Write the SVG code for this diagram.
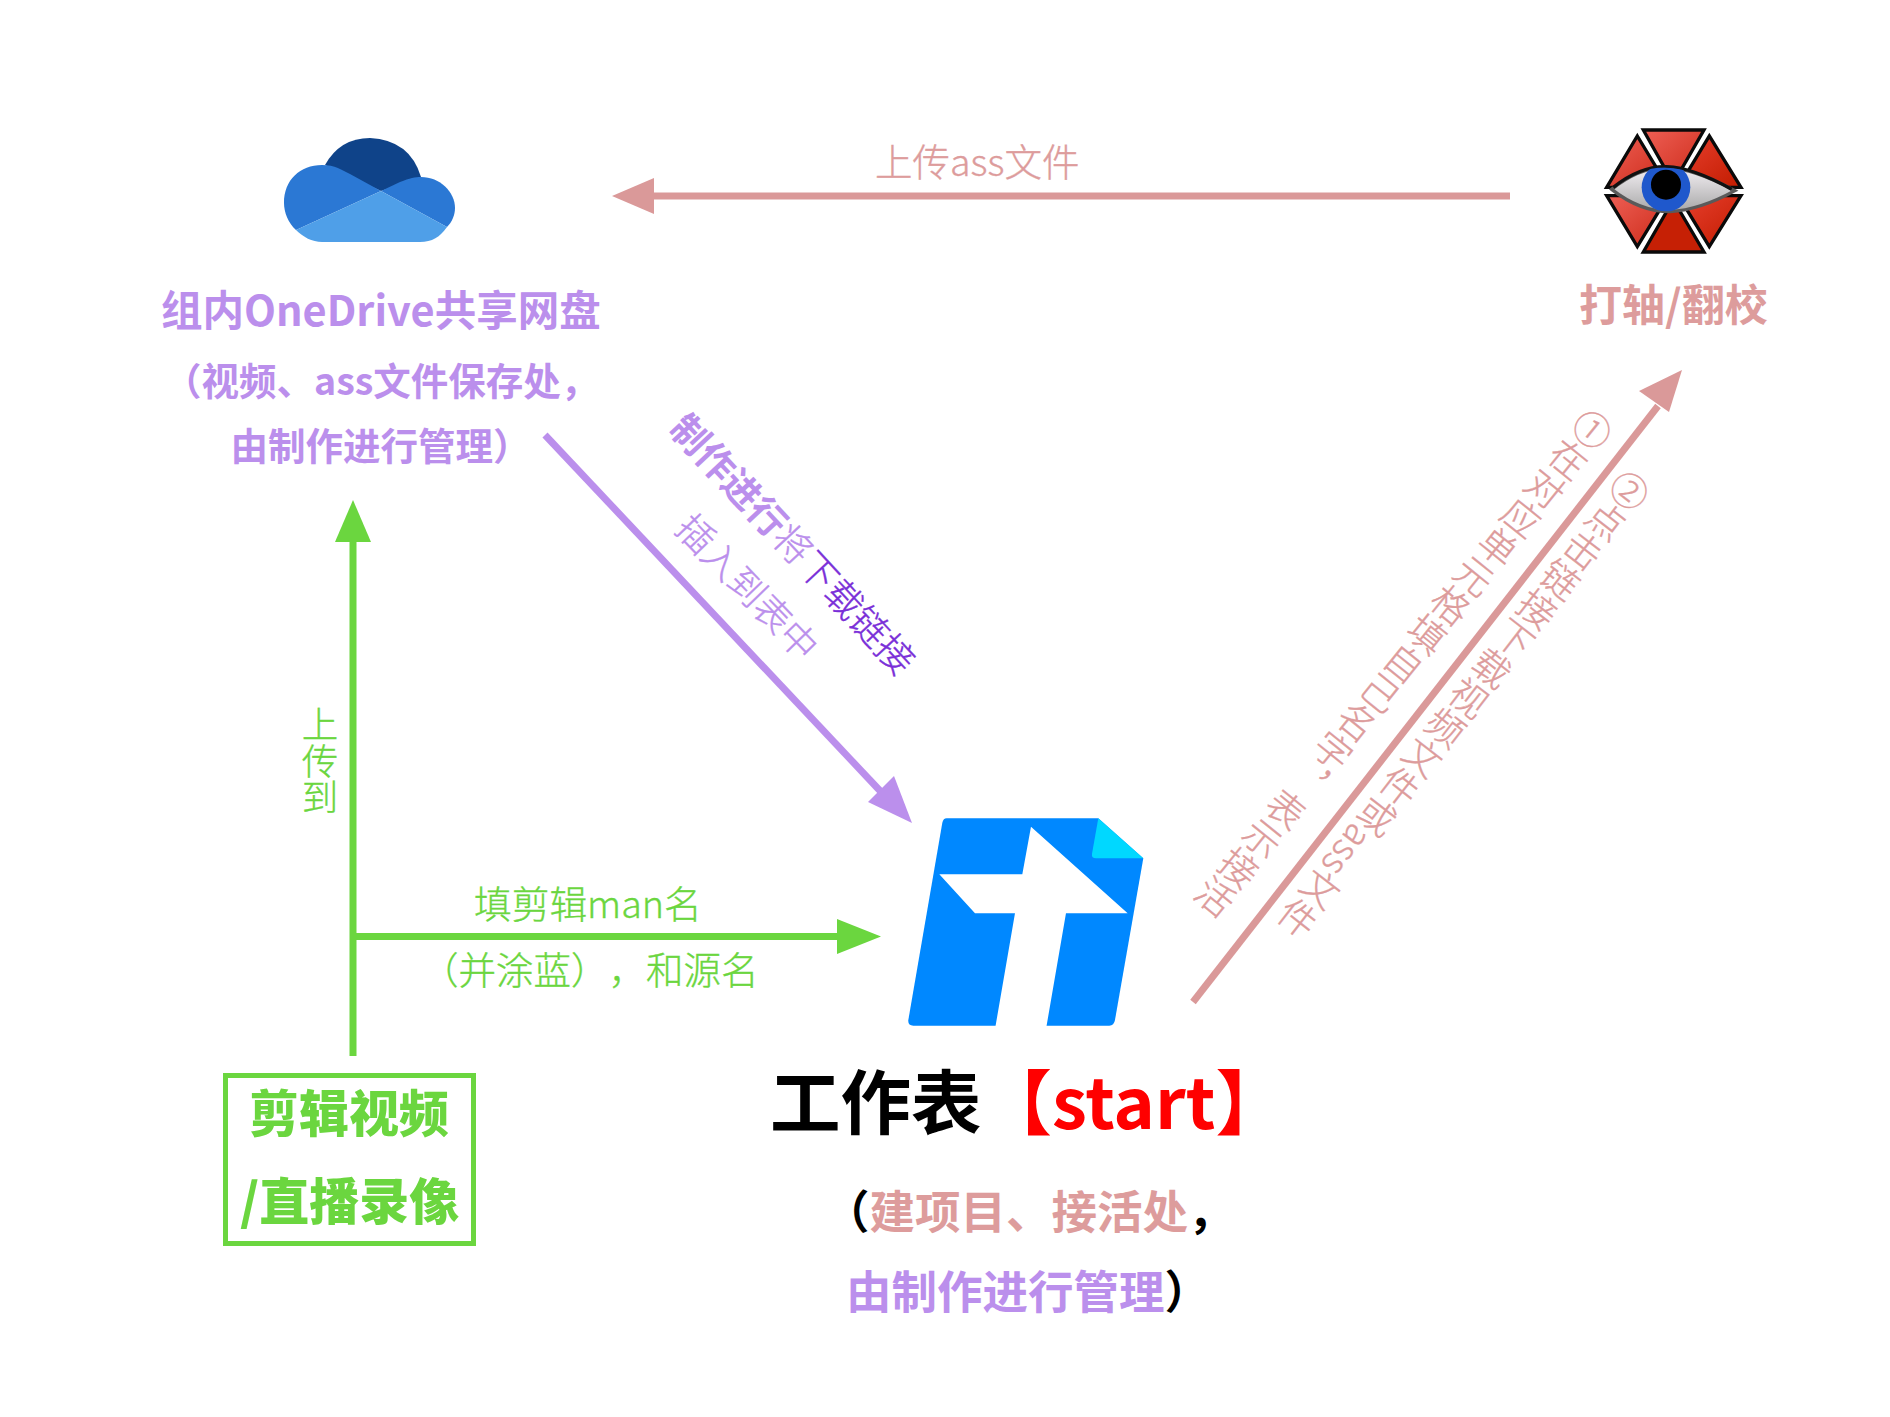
<svg xmlns="http://www.w3.org/2000/svg" width="1890" height="1417" viewBox="0 0 1890 1417">
<defs>
<linearGradient id="redA" x1="0" y1="0" x2="1" y2="1"><stop offset="0" stop-color="#ee5f55"/><stop offset="1" stop-color="#cc2a18"/></linearGradient>
<linearGradient id="redB" x1="0" y1="0" x2="1" y2="1"><stop offset="0" stop-color="#e8402f"/><stop offset="1" stop-color="#c21c00"/></linearGradient>
<linearGradient id="eyeG" x1="0" y1="0" x2="0" y2="1"><stop offset="0" stop-color="#f4f0f4"/><stop offset="1" stop-color="#a8a8a8"/></linearGradient>
<clipPath id="eyeClip"><path d="M155 268Q240 200 320 203Q400 205 525 272Q420 330 330 335Q240 335 155 268Z"/></clipPath>
</defs>
<style>
text{font-family:"Noto Sans CJK SC","Noto Sans",sans-serif;text-spacing-trim:space-all}
.b{font-weight:700}
.x{font-weight:900}
.l{font-weight:300;stroke-width:.35}
.v{writing-mode:vertical-rl}
.pu{fill:#bb8fec;stroke:#bb8fec}
.pk{fill:#dd9c9c;stroke:#dd9c9c}
.gr{fill:#6bd63f;stroke:#6bd63f}
.dp{fill:#7a2fd8;stroke:#7a2fd8}
.b,.x{stroke-width:0}
.k{fill:#000}
.r{fill:#f00}
.seg{stroke:#0a0a0a;stroke-width:10;stroke-linejoin:miter}
</style>
<rect width="1890" height="1417" fill="#fff"/>

<g id="connectors">
<g id="c-ass"><rect x="650" y="192.500" width="860" height="7" fill="#da9999"/><path d="M612 196L654 178V214Z" fill="#da9999"/></g>
<g id="c-purple"><path d="M545 435L884 795" stroke="#bb8fec" stroke-width="7" fill="none"/><path d="M912 823L868 802L894 776Z" fill="#bb8fec"/></g>
<g id="c-pink"><path d="M1193 1002L1658 406" stroke="#da9999" stroke-width="7" fill="none"/><path d="M1682 370L1639 391L1669 412Z" fill="#da9999"/></g>
<g id="c-up"><rect x="349.500" y="530" width="7" height="526" fill="#6bd63f"/><path d="M353 500L371 542H335Z" fill="#6bd63f"/></g>
<g id="c-right"><rect x="353" y="933" width="486" height="7" fill="#6bd63f"/><path d="M881 936.500L837 919V954Z" fill="#6bd63f"/></g>
</g>

<g id="labels">
<text class="pk l" x="875" y="176" font-size="37.500">上传ass文件</text>
<text class="gr l v" x="320" y="706" font-size="36.500">上传到</text>
<text class="gr l" x="474" y="918" font-size="37.700">填剪辑man名</text>
<text class="gr l" x="421" y="984" font-size="37.500">（并涂蓝），和源名</text>
<g transform="translate(690 435) rotate(47)" font-size="37.600"><text x="-19" y="13"><tspan class="pu b">制作进行</tspan><tspan class="pu l">将</tspan><tspan class="dp l">下载链接</tspan></text></g>
<g transform="translate(695 534) rotate(46)"><text class="pu l" x="-18" y="13" font-size="37">插入到表中</text></g>
<g transform="translate(1592 430) rotate(38.900)"><text class="pk l v" x="0" y="-19" font-size="37.500">①在对应单元格填自己名字，表示接活</text></g>
<g transform="translate(1629 491) rotate(37.800)"><text class="pk l v" x="0" y="-19" font-size="37.400">②点击链接下载视频文件或ass文件</text></g>
</g>

<g id="node-onedrive">
<path d="M325 165Q340 138 370 138Q410 140 421 177L381 191Z" fill="#0f4389"/>
<path d="M284 203C284 180 300 165 322 165C335 165 342 170 350 174L381 191L296 230C288 223 284 212 284 203Z" fill="#2b78d4"/>
<path d="M381 191L400 182C410 178 415 177 421 177C440 177 455 192 455 208C455 215 452 222 447 227Z" fill="#2b78d4"/>
<path d="M296 230L381 191L447 227C440 237 432 242 420 242H322C312 242 303 237 296 230Z" fill="#4f9fe8"/>
<text class="pu b" x="161" y="326" font-size="41.500">组内OneDrive共享网盘</text>
<text class="pu b" x="164" y="395" font-size="37.500">（视频、ass文件保存处，</text>
<text class="pu b" x="230.500" y="460" font-size="37.500">由制作进行管理）</text>
</g>

<g id="node-aegisub">
<g transform="translate(1560 100) scale(.3333)">
<path class="seg" fill="url(#redA)" d="M250 90H432L340 250Z"/>
<path class="seg" fill="url(#redA)" d="M232 108L325 262H140Z"/>
<path class="seg" fill="url(#redB)" d="M448 108L543 262H355Z"/>
<path class="seg" fill="url(#redA)" d="M140 287H325L232 440Z"/>
<path class="seg" fill="url(#redB)" d="M543 287H355L448 440Z"/>
<path class="seg" fill="#c62005" d="M340 300L432 456H250Z"/>
<path d="M155 268Q240 200 320 203Q400 205 525 272Q420 330 330 335Q240 335 155 268Z" fill="url(#eyeG)" stroke="#5a5a5a" stroke-width="10"/>
<path d="M160 262Q240 198 320 200Q400 203 515 268" fill="none" stroke="#111" stroke-width="10"/>
<g clip-path="url(#eyeClip)"><circle cx="318" cy="262" r="73" fill="#1f58cc"/><circle cx="318" cy="254" r="45" fill="#000"/></g>
</g>
<text class="pk b" x="1579" y="321" font-size="43">打轴/翻校</text>
</g>

<g id="node-sheet">
<g transform="translate(880 800) scale(.3333)">
<path d="M200 55H655L790 175L705 660Q702 677 688 677H100Q83 677 85 660L187 68Q190 55 200 55Z" fill="#0088ff"/>
<path d="M655 55L790 175H648Q634 175 636 162Z" fill="#00d8ff"/>
<path d="M453 80L743 340H558L499 682H346L405 340H285L178 223H427Z" fill="#fff"/>
</g>
<text x="770" y="1129" font-size="70.500" class="b"><tspan class="k">工作表</tspan><tspan class="r">【start】</tspan></text>
<text x="824" y="1229" font-size="45.500" class="b"><tspan class="k">（</tspan><tspan class="pk">建项目、接活处</tspan><tspan class="k">，</tspan></text>
<text x="846" y="1309" font-size="45.500" class="b"><tspan class="pu">由制作进行管理</tspan><tspan class="k">）</tspan></text>
</g>

<g id="node-source">
<rect x="225.500" y="1075.500" width="248" height="168" fill="none" stroke="#6bd63f" stroke-width="5"/>
<text class="gr x" x="249" y="1132" font-size="50">剪辑视频</text>
<text class="gr x" x="240" y="1220" font-size="50">/直播录像</text>
</g>
</svg>
